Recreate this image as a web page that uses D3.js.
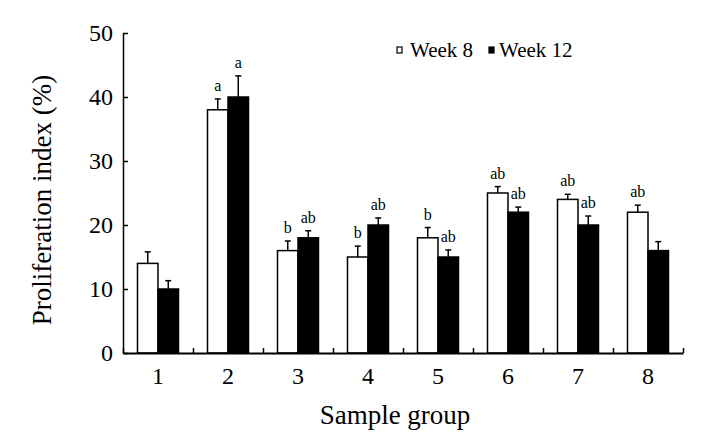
<!DOCTYPE html>
<html><head><meta charset="utf-8">
<script src="https://cdn.jsdelivr.net/npm/d3@7"></script>
<style>
html,body{margin:0;padding:0;background:#fff;}
text{font-family:"Liberation Serif","Times New Roman",serif;fill:#000;}
</style></head>
<body>
<svg id="c" width="708" height="438"></svg>
<script>
const groups = ["1","2","3","4","5","6","7","8"];
const seriesNames = ["Week 8","Week 12"];
const week8 = [14, 38, 16, 15, 18, 25, 24, 22];
const week8Err = [1.8, 1.7, 1.5, 1.7, 1.6, 1.0, 0.8, 1.1];
const week12 = [10, 40, 18, 20, 15, 22, 20, 16];
const week12Err = [1.3, 3.3, 1.1, 1.1, 1.1, 0.8, 1.4, 1.4];
const week8Labels = ["", "a", "b", "b", "b", "ab", "ab", "ab"];
const week12Labels = ["", "a", "ab", "ab", "ab", "ab", "ab", ""];
const yTicks = [0, 10, 20, 30, 40, 50];

const svg = d3.select("#c");
const mLeft = 123, mRight = 683, mTop = 33, mBottom = 353;

const x = d3.scaleBand().domain(groups).range([mLeft, mRight]).padding(0);
const xSub = d3.scaleBand().domain(seriesNames)
  .range([x.bandwidth()*0.207, x.bandwidth()*0.793]).padding(0);
const xl = d3.scaleLinear().domain([0, groups.length]).range([mLeft, mRight]);
const y = d3.scaleLinear().domain([0, 50]).range([mBottom, mTop]);

const data = [];
groups.forEach((g, i) => {
  data.push({g, s: "Week 8", v: week8[i], e: week8Err[i], lab: week8Labels[i]});
  data.push({g, s: "Week 12", v: week12[i], e: week12Err[i], lab: week12Labels[i]});
});

const fill = d3.scaleOrdinal().domain(seriesNames).range(["#fff", "#000"]);

// bars
svg.append("g").selectAll("rect").data(data).join("rect")
  .attr("x", d => x(d.g) + xSub(d.s))
  .attr("y", d => y(d.v))
  .attr("width", xSub.bandwidth())
  .attr("height", d => y(0) - y(d.v))
  .attr("fill", d => fill(d.s))
  .attr("stroke", "#000").attr("stroke-width", 1.5);

// error bars
const eg = svg.append("g").attr("stroke", "#000").attr("stroke-width", 1.5);
data.forEach(d => {
  const cx = x(d.g) + xSub(d.s) + xSub.bandwidth()/2;
  eg.append("line").attr("x1", cx).attr("x2", cx).attr("y1", y(d.v)).attr("y2", y(d.v + d.e));
  eg.append("line").attr("x1", cx - 3).attr("x2", cx + 3).attr("y1", y(d.v + d.e)).attr("y2", y(d.v + d.e));
});

// significance labels
svg.append("g").selectAll("text").data(data.filter(d => d.lab)).join("text")
  .attr("x", d => x(d.g) + xSub(d.s) + xSub.bandwidth()/2)
  .attr("y", d => y(d.v + d.e) - 8)
  .attr("text-anchor", "middle")
  .style("font-size", "16px")
  .text(d => d.lab);

// y axis
const ya = svg.append("g").attr("transform", `translate(${mLeft},0)`)
  .call(d3.axisLeft(y).tickValues(yTicks).tickSizeInner(-5).tickSizeOuter(0).tickPadding(10));
ya.select(".domain").attr("stroke-width", 1.5);
ya.selectAll(".tick line").attr("stroke-width", 1.5);
ya.selectAll(".tick text").style("font-size", "24px").style("font-family", "Liberation Serif");

// x axis ticks at boundaries
const xa = svg.append("g").attr("transform", `translate(0,${mBottom})`)
  .call(d3.axisBottom(xl).ticks(groups.length).tickSizeInner(-5).tickSizeOuter(0).tickFormat(""));
xa.select(".domain").attr("stroke-width", 2);
xa.selectAll(".tick line").attr("stroke-width", 1.5);

// x labels
const xb = svg.append("g").attr("transform", `translate(0,${mBottom})`)
  .call(d3.axisBottom(x).tickSize(0).tickPadding(14));
xb.select(".domain").remove();
xb.selectAll(".tick text").style("font-size", "24px").style("font-family", "Liberation Serif");

// axis titles
svg.append("text").attr("x", 395).attr("y", 424)
  .attr("text-anchor", "middle").style("font-size", "27px").text("Sample group");
svg.append("text").attr("transform", "translate(51,200) rotate(-90)")
  .attr("text-anchor", "middle").style("font-size", "27px").text("Proliferation index (%)");

// legend
const lg = svg.append("g");
const legX = [397, 489], legTextX = [410, 499];
seriesNames.forEach((s, i) => {
  lg.append("rect").attr("x", legX[i]).attr("y", 47).attr("width", 5).attr("height", 6)
    .attr("fill", fill(s)).attr("stroke", "#000").attr("stroke-width", 1.2);
  lg.append("text").attr("x", legTextX[i]).attr("y", 57).style("font-size", "21px").text(s);
});
</script>
</body></html>
